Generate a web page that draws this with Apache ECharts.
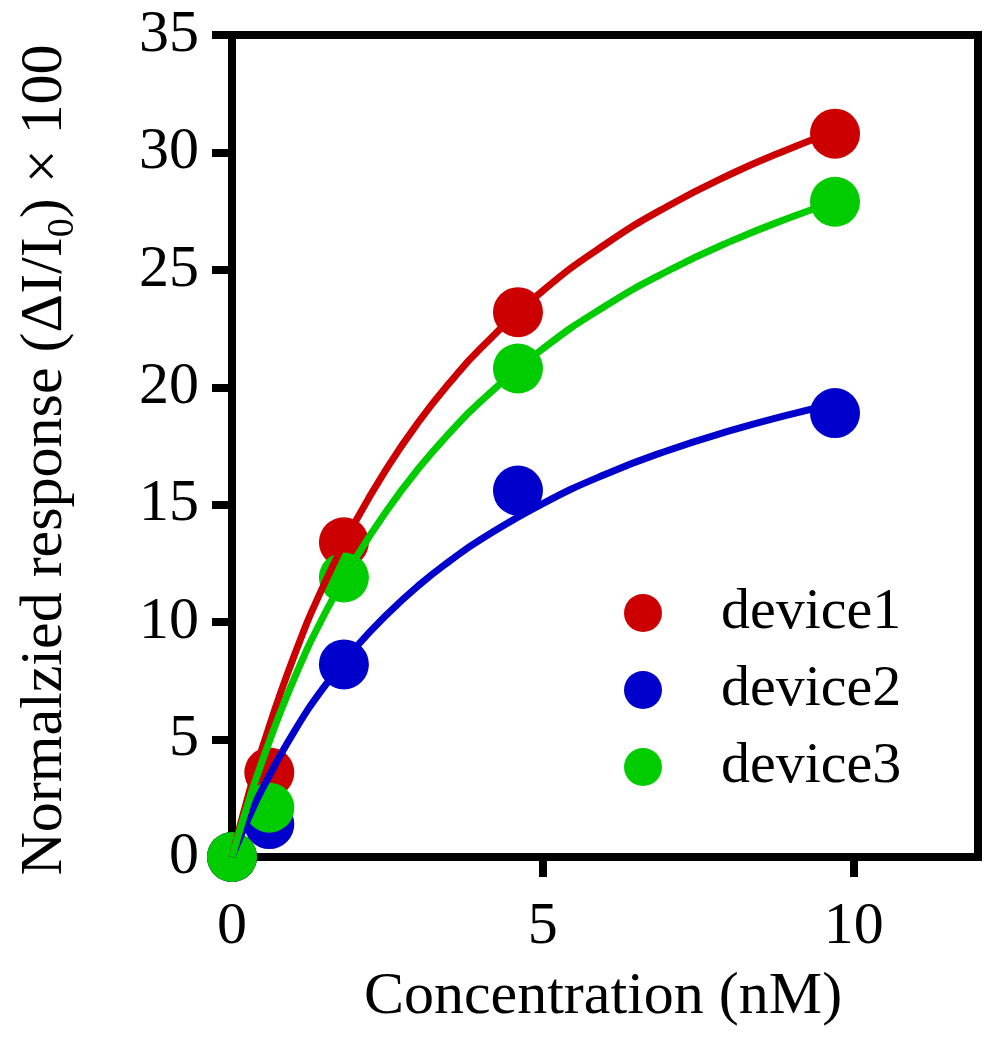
<!DOCTYPE html>
<html>
<head>
<meta charset="utf-8">
<script src="https://cdn.jsdelivr.net/npm/echarts@6/dist/echarts.min.js"></script>
<style>html,body{margin:0;padding:0;background:#fff}#c{width:1002px;height:1050px}</style>
</head>
<body>
<div id="c"></div>
<script>
// Measured points
var concentration = [0, 0.6, 1.8, 4.6, 9.7];
var device1 = [0, 3.6, 13.4, 23.2, 30.8];
var device2 = [0, 1.4, 8.2, 15.6, 18.9];
var device3 = [0, 2.1, 11.9, 20.8, 27.9];

// Fitted curves
var fitX = [0, 0.25, 0.5, 1, 1.5, 2, 2.5, 3, 3.5, 4, 5, 6, 7, 8, 9, 9.7];
var fit1 = [0, 2.5, 4.75, 8.57, 11.72, 14.35, 16.59, 18.52, 20.19, 21.66, 24.11, 26.08, 27.70, 29.05, 30.19, 30.90];
var fit2 = [0, 1.56, 2.96, 5.34, 7.31, 8.95, 10.35, 11.56, 12.60, 13.52, 15.05, 16.29, 17.30, 18.14, 18.86, 19.30];
var fit3 = [0, 2.21, 4.19, 7.59, 10.40, 12.77, 14.79, 16.54, 18.06, 19.40, 21.64, 23.45, 24.94, 26.19, 27.25, 27.90];

var seriesNames = ['device1', 'device2', 'device3'];
var xTicks = [0, 5, 10];

var colors = ['#cc0000', '#0000cc', '#00cc00'];
var FONT = '"Liberation Serif", "Times New Roman", serif';

function pairs(xs, ys) { return xs.map(function (x, i) { return [x, ys[i]]; }); }

var pointSets = [device1, device2, device3];
var fitSets = [fit1, fit2, fit3];
var series = [];
pointSets.forEach(function (d, i) {
  series.push({
    name: seriesNames[i], type: 'scatter', symbol: 'circle', symbolSize: 50,
    itemStyle: { color: colors[i], opacity: 1 }, z: 2,
    data: pairs(concentration, d)
  });
});
fitSets.forEach(function (d, i) {
  series.push({
    name: seriesNames[i] + ' fit', type: 'line', smooth: true, showSymbol: false, symbol: 'none',
    lineStyle: { color: colors[i], width: 7 }, z: 3,
    data: pairs(fitX, d)
  });
});

var chart = echarts.init(document.getElementById('c'), null, { renderer: 'canvas' });
chart.setOption({
  animation: false,
  backgroundColor: '#fff',
  grid: { left: 225, right: 24, top: 35, bottom: 193, show: true, borderColor: '#000', borderWidth: 8, backgroundColor: 'transparent' },
  legend: {
    data: seriesNames, orient: 'vertical', left: 619, top: 579, itemGap: 19,
    itemWidth: 38, itemHeight: 38, icon: 'circle',
    textStyle: { fontFamily: FONT, fontSize: 58, color: '#000', padding: [0, 0, 0, 54] }
  },
  xAxis: {
    type: 'value', min: 0, max: 12, interval: 5,
    name: 'Concentration (nM)', nameLocation: 'middle', nameGap: 110,
    nameTextStyle: { fontFamily: FONT, fontSize: 60, color: '#000', padding: [0, 4, 0, 0] },
    axisLine: { show: true, lineStyle: { color: '#000', width: 8 } },
    axisTick: { show: true, length: 20, customValues: xTicks, lineStyle: { color: '#000', width: 8 } },
    axisLabel: { fontFamily: FONT, fontSize: 60, color: '#000', margin: 40, customValues: xTicks },
    splitLine: { show: false }
  },
  yAxis: {
    type: 'value', min: 0, max: 35, interval: 5,
    name: '{a|Normalzied response (ΔI/I}{s|0}{a|) × 100}', nameLocation: 'middle', nameGap: 147,
    nameTextStyle: { fontFamily: FONT, fontSize: 60, color: '#000', padding: [0, 28, 0, 0],
      rich: {
        a: { fontFamily: FONT, fontSize: 60, color: '#000', lineHeight: 80 },
        s: { fontFamily: FONT, fontSize: 38, color: '#000', lineHeight: 40, padding: [36, 0, 0, 0] }
      } },
    axisLine: { show: true, lineStyle: { color: '#000', width: 8 } },
    axisTick: { show: true, length: 20, lineStyle: { color: '#000', width: 8 } },
    axisLabel: { fontFamily: FONT, fontSize: 60, color: '#000', margin: 33 },
    splitLine: { show: false }
  },
  series: series
});
</script>
</body>
</html>
